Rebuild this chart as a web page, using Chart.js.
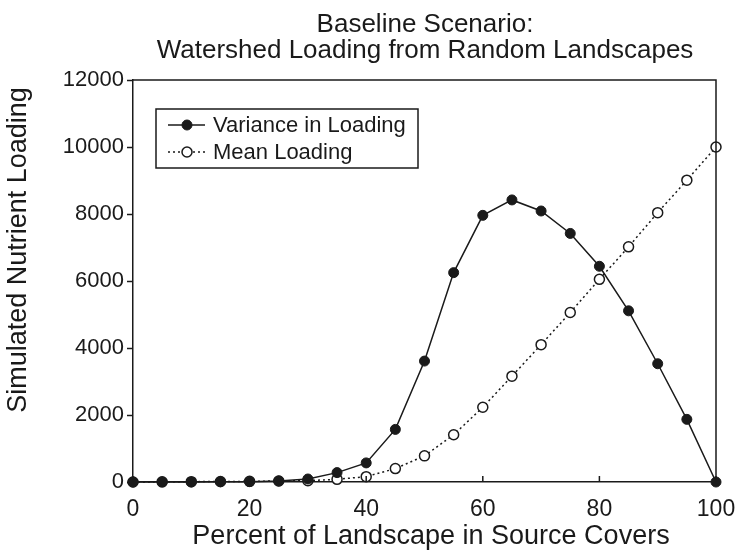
<!DOCTYPE html>
<html><head><meta charset="utf-8">
<script src="https://cdn.jsdelivr.net/npm/chart.js@4.4.0/dist/chart.umd.min.js"></script>
<style>html,body{margin:0;padding:0;background:#fff}#wrap{width:738px;height:558px}</style>
</head><body><div id="wrap"><canvas id="c" width="738" height="558"></canvas></div>
<script>
const titleLines = ['Baseline Scenario:', 'Watershed Loading from Random Landscapes'];
const xAxisTitle = 'Percent of Landscape in Source Covers';
const yAxisTitle = 'Simulated Nutrient Loading';
const seriesNames = ['Variance in Loading', 'Mean Loading'];
const percents = [0,5,10,15,20,25,30,35,40,45,50,55,60,65,70,75,80,85,90,95,100];
const varianceLoading = [0,0,0,5,10,30,90,280,570,1570,3610,6250,7960,8420,8090,7420,6440,5110,3530,1870,0];
const meanLoading = [0,5,10,15,20,30,40,80,160,400,780,1410,2230,3160,4100,5060,6050,7020,8040,9010,10000];
const xTicks = [0,20,40,60,80,100];
const yTicks = [0,2000,4000,6000,8000,10000,12000];

const FONT = "'Liberation Sans', Arial, Helvetica, sans-serif";
const INK = '#1a1a1a';

const framePlugin = {
  id: 'frame',
  afterDatasetsDraw(chart) {
    const {ctx, chartArea: a, scales} = chart;
    ctx.save();
    ctx.strokeStyle = INK;
    ctx.lineWidth = 1.5;
    ctx.beginPath();
    ctx.moveTo(a.left, a.top); ctx.lineTo(a.right, a.top); ctx.lineTo(a.right, a.bottom);
    ctx.stroke();
    // inward x ticks
    ctx.beginPath();
    xTicks.forEach(v => {
      const px = scales.x.getPixelForValue(v);
      ctx.moveTo(px, a.bottom); ctx.lineTo(px, a.bottom - 6);
    });
    ctx.stroke();
    ctx.fillStyle = INK;
    ctx.textAlign = 'center';
    // chart title
    ctx.font = '26px ' + FONT;
    ctx.textBaseline = 'alphabetic';
    ctx.fillText(titleLines[0], 425, 32);
    ctx.fillText(titleLines[1], 425, 58);
    // x axis title
    ctx.font = '27px ' + FONT;
    ctx.fillText(xAxisTitle, 431, 544);
    // y axis title
    ctx.save();
    ctx.translate(19, 250);
    ctx.rotate(-Math.PI / 2);
    ctx.font = '27px ' + FONT;
    ctx.textBaseline = 'middle';
    ctx.fillText(yAxisTitle, 0, 0);
    ctx.restore();
    // legend box
    const bx = 156, by = 109, bw = 262, bh = 59;
    ctx.lineWidth = 1.5;
    ctx.strokeRect(bx, by, bw, bh);
    const rows = [125, 152];
    chart.data.datasets.forEach((ds, i) => {
      const y = rows[i];
      ctx.save();
      ctx.strokeStyle = ds.borderColor;
      ctx.lineWidth = ds.borderWidth;
      ctx.setLineDash(ds.borderDash || []);
      ctx.beginPath(); ctx.moveTo(168, y); ctx.lineTo(205, y); ctx.stroke();
      ctx.setLineDash([]);
      ctx.beginPath(); ctx.arc(187, y, ds.pointRadius, 0, Math.PI * 2);
      ctx.fillStyle = ds.pointBackgroundColor; ctx.fill();
      ctx.lineWidth = ds.pointBorderWidth; ctx.strokeStyle = ds.pointBorderColor; ctx.stroke();
      ctx.restore();
      ctx.fillStyle = INK;
      ctx.font = '22px ' + FONT;
      ctx.textBaseline = 'middle';
      ctx.textAlign = 'left';
      ctx.fillText(ds.label, 213, y + 1);
    });
    ctx.restore();
  }
};

new Chart(document.getElementById('c'), {
  type: 'line',
  data: {
    datasets: [
      {
        label: seriesNames[0],
        data: percents.map((p, i) => ({x: p, y: varianceLoading[i]})),
        borderColor: INK, borderWidth: 1.5,
        pointRadius: 5, pointBackgroundColor: INK, pointBorderColor: INK, pointBorderWidth: 1,
        clip: false, tension: 0
      },
      {
        label: seriesNames[1],
        data: percents.map((p, i) => ({x: p, y: meanLoading[i]})),
        borderColor: INK, borderWidth: 1.5, borderDash: [2, 3],
        pointRadius: 5, pointBackgroundColor: '#ffffff', pointBorderColor: INK, pointBorderWidth: 1.5,
        clip: false, tension: 0
      }
    ]
  },
  options: {
    responsive: false, animation: false, devicePixelRatio: 1,
    layout: {padding: {left: 0, right: 22, top: 80, bottom: 0}},
    plugins: {
      legend: {display: false},
      tooltip: {enabled: false},
      title: {display: false}
    },
    scales: {
      x: {
        type: 'linear', min: 0, max: 100,
        afterBuildTicks: s => { s.ticks = xTicks.map(v => ({value: v})); },
        afterFit: s => { s.height = 76; s.paddingLeft = 0; s.paddingRight = 0; },
        grid: {display: true, drawOnChartArea: false, drawTicks: false, color: INK},
        border: {display: true, color: INK, width: 1.5},
        ticks: {color: INK, padding: 14, maxRotation: 0, font: {family: FONT, size: 23}},
        title: {display: false}
      },
      y: {
        min: 0, max: 12000,
        afterBuildTicks: s => { s.ticks = yTicks.map(v => ({value: v})); },
        afterFit: s => { s.width = 133; s.paddingTop = 0; s.paddingBottom = 0; },
        grid: {display: true, drawOnChartArea: false, drawTicks: true, tickLength: 6, color: INK, tickWidth: 1.5},
        border: {display: true, color: INK, width: 1.5},
        ticks: {color: INK, padding: 3, callback: v => String(v), font: {family: FONT, size: 22}},
        title: {display: false}
      }
    }
  },
  plugins: [framePlugin]
});
</script></body></html>
